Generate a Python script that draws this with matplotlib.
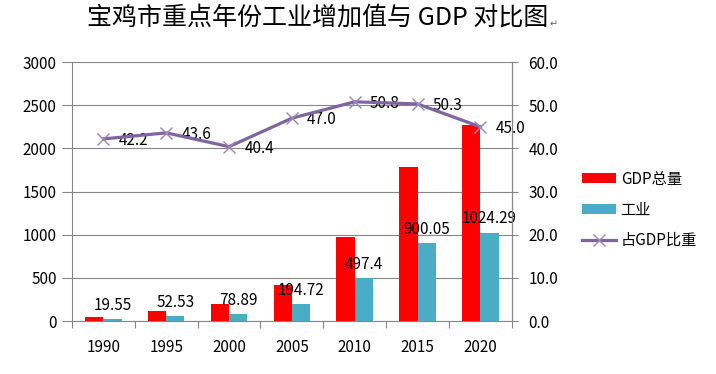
import matplotlib
matplotlib.use("Agg")
import matplotlib.pyplot as plt
import numpy as np

plt.rcParams['font.family'] = ['Noto Sans CJK SC', 'DejaVu Sans']

# data
years = ['1990', '1995', '2000', '2005', '2010', '2015', '2020']
gdp_total = [46, 112, 193, 422, 972, 1786, 2268]
industry = [19.55, 52.53, 78.89, 194.72, 497.4, 900.05, 1024.29]
industry_labels = ['19.55', '52.53', '78.89', '194.72', '497.4', '900.05', '1024.29']
share = [42.2, 43.6, 40.4, 47.0, 50.8, 50.3, 45.0]

red = '#FF0000'
teal = '#4BACC6'
purple = '#8064A2'
grid_gray = '#868686'

fig = plt.figure(figsize=(7.16, 3.74), dpi=100)
ax = fig.add_axes([0.1006, 0.1417, 0.6141, 0.6923])
ax2 = ax.twinx()

x = np.arange(len(years))
w = 0.29

# bars
b1 = ax.bar(x - w / 2, gdp_total, w, color=red, label='GDP总量', zorder=3)
b2 = ax.bar(x + w / 2, industry, w, color=teal, label='工业', zorder=3)

for xi, v, s in zip(x, industry, industry_labels):
    ax.annotate(s, (xi + w / 2, v), xytext=(0, 4), textcoords='offset points',
                ha='center', va='bottom', fontsize=11, color='black', zorder=5)

ax.set_ylim(0, 3000)
ax.set_yticks(np.arange(0, 3001, 500))
ax.set_xlim(-0.5, len(years) - 0.5)
ax.yaxis.grid(True, color=grid_gray, linewidth=0.8, zorder=0)
ax.set_axisbelow(True)

# x ticks: marks at category boundaries, labels at centres
ax.set_xticks(np.arange(-0.5, len(years), 1.0))
ax.set_xticklabels([])
ax.tick_params(axis='x', which='major', length=5, color=grid_gray, direction='out')
ax.set_xticks(x, minor=True)
ax.set_xticklabels(years, minor=True, fontsize=11)
ax.tick_params(axis='x', which='minor', length=0, pad=13)

ax.tick_params(axis='y', length=7, color=grid_gray, labelsize=11, pad=4)
ax.spines['top'].set_visible(False)
for side in ['left', 'bottom', 'right']:
    ax.spines[side].set_color(grid_gray)

# share line on right axis
line, = ax2.plot(x, share, color=purple, linewidth=2.3, marker='x', markersize=9,
                 markeredgecolor='#9A86BC', markeredgewidth=1.0, label='占GDP比重', zorder=4)
for xi, v in zip(x, share):
    ax2.annotate(f'{v:.1f}', (xi, v), xytext=(11, -1), textcoords='offset points',
                 ha='left', va='center', fontsize=11, color='black')

ax2.set_ylim(0, 60)
ax2.set_yticks(np.arange(0, 61, 10))
ax2.set_yticklabels([f'{t:.1f}' for t in np.arange(0, 61, 10)])
ax2.tick_params(axis='y', length=4, color=grid_gray, labelsize=11, pad=8)
ax2.spines['top'].set_visible(False)
ax2.spines['left'].set_visible(False)
ax2.spines['bottom'].set_visible(False)
ax2.spines['right'].set_color(grid_gray)

fig.legend(handles=[b1, b2, line], loc='upper left', bbox_to_anchor=(0.805, 0.56),
           frameon=False, fontsize=11, handlelength=2.2, handleheight=0.6,
           handletextpad=0.3, labelspacing=0.9, borderaxespad=0)

fig.text(0.443, 0.952, '宝鸡市重点年份工业增加值与 GDP 对比图', ha='center', va='center',
         fontsize=18)
fig.text(0.768, 0.935, '↵', ha='left', va='center', fontsize=7, color='#666666',
         family=['DejaVu Sans'])

fig.savefig('out.png', dpi=100)
